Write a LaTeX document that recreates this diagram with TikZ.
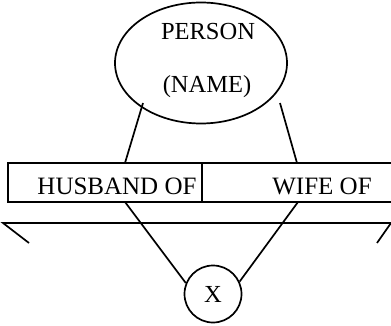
\documentclass[tikz,border=0pt]{standalone}
\usepackage{fontspec}
\setmainfont{Liberation Serif}
\usetikzlibrary{shapes.geometric, positioning}

\begin{document}
\begin{tikzpicture}[x=1pt, y=-1pt, line width=1.7pt,
  lbl/.style={font=\fontsize{24.5}{29}\selectfont, inner sep=0pt}]
\useasboundingbox (0,0) rectangle (391,326);
\node[draw, ellipse, minimum width=172, minimum height=121, inner sep=0pt] (person) at (201,63) {};
\node[lbl, anchor=base] (persontxt) at (208,40) {PERSON};
\node[lbl, anchor=base] (nametxt) at (207,93) {(NAME)};
\draw[line width=1.3pt] (8,163) rectangle (202,202);
\draw[line width=1.3pt] (202,163) rectangle (400,202);
\node[lbl, anchor=base, font=\fontsize{25}{29}\selectfont] (husband) at (117,194) {HUSBAND OF};
\node[lbl, anchor=base, font=\fontsize{25}{29}\selectfont] (wife) at (322,194) {WIFE OF};
\node[draw, circle, minimum size=57, inner sep=0pt, font=\fontsize{24.5}{29}\selectfont] (x) at (213,294) {X};
\coordinate (A) at (143,103);
\coordinate (B) at (280,103);
\coordinate (C) at (125,163);
\coordinate (D) at (297,163);
\coordinate (E) at (125,202);
\coordinate (F) at (298,202);
\draw (A) -- (C);
\draw (B) -- (D);
\draw (E) -- (x.158);
\draw (F) -- (x.25);
\draw (29,243) -- (3,223) -- (391,223) -- (377,243);
\end{tikzpicture}
\end{document}
